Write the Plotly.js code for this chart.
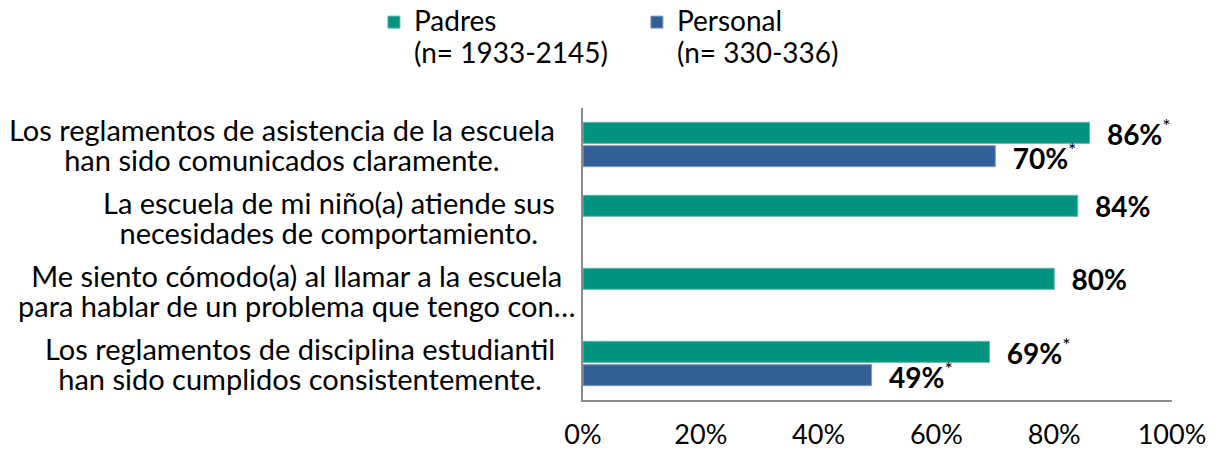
<!DOCTYPE html>
<html>
<head>
<meta charset="utf-8">
<script src="https://cdn.plot.ly/plotly-3.0.1.min.js"></script>
<style>
  html, body { margin: 0; padding: 0; background: #ffffff; }
  #chart { width: 1218px; height: 452px; }
</style>
</head>
<body>
<div id="chart"></div>
<script>
// ---- Data ----
const categoryLines = [
  ["Los reglamentos de asistencia de la escuela", "han sido comunicados claramente."],
  ["La escuela de mi niño(a) atiende sus", "necesidades de comportamiento."],
  ["Me siento cómodo(a) al llamar a la escuela", "para hablar de un problema que tengo con…"],
  ["Los reglamentos de disciplina estudiantil", "han sido cumplidos consistentemente."]
];
const padresValues = [86, 84, 80, 69];
const personalValues = [70, null, null, 49];
const padresSignificant = [true, false, false, true];
const personalSignificant = [true, false, false, true];
const seriesNames = [["Padres", "(n= 1933-2145)"], ["Personal", "(n= 330-336)"]];
const xTickValues = [0, 20, 40, 60, 80, 100];
const xTickLabels = ["0%", "20%", "40%", "60%", "80%", "100%"];

const FONT = "Lato, 'Open Sans', sans-serif";
const GREEN = "#00937F";
const BLUE = "#336094";

function big(lines, px) {
  return lines.map(l => '<span style="font-size:' + px + 'px">' + l + '</span>').join("<br>");
}
function labels(vals, sig) {
  return vals.map((v, i) => v == null ? "" :
    "\u00a0\u00a0<b>" + v + "%</b>" + (sig[i] ? "<sup>*</sup>" : ""));
}

const catIds = categoryLines.map((c, i) => "c" + i);

const traces = [
  {
    type: "bar", orientation: "h", name: big(seriesNames[0], 28),
    y: catIds, x: padresValues,
    marker: { color: GREEN, line: { color: "#5DB8AC", width: 1 } },
    text: labels(padresValues, padresSignificant),
    textposition: "outside", constraintext: "none", cliponaxis: false,
    textfont: { family: FONT, size: 28, color: "#000000" },
    hoverinfo: "skip"
  },
  {
    type: "bar", orientation: "h", name: big(seriesNames[1], 28),
    y: catIds, x: personalValues,
    marker: { color: BLUE, line: { color: "#7F9BC0", width: 1 } },
    text: labels(personalValues, personalSignificant),
    textposition: "outside", constraintext: "none", cliponaxis: false,
    textfont: { family: FONT, size: 28, color: "#000000" },
    hoverinfo: "skip"
  }
];

// the widest label overhangs toward the axis, as in the original
const annotations = categoryLines.map((c, i) => ({
  xref: "paper", yref: "y", x: 0, y: catIds[i],
  xanchor: "right", yanchor: "middle", xshift: (i === 2 ? -6 : -26),
  align: "center", showarrow: false, text: big(c, 29),
  font: { family: FONT, size: 23, color: "#000000" }
}));

const layout = {
  width: 1218, height: 452,
  margin: { l: 583, r: 46, t: 108, b: 52, autoexpand: false },
  paper_bgcolor: "#ffffff", plot_bgcolor: "#ffffff",
  font: { family: FONT, size: 23, color: "#000000" },
  barmode: "group", bargap: 0.36, bargroupgap: 0.1,
  showlegend: true,
  legend: {
    orientation: "h", xref: "container", yref: "container",
    x: 0.307, xanchor: "left", y: 1, yanchor: "top",
    entrywidth: 218, entrywidthmode: "pixels",
    valign: "top", traceorder: "normal",
    font: { family: FONT, size: 24, color: "#000000" },
    bgcolor: "rgba(0,0,0,0)"
  },
  xaxis: {
    range: [0, 100], tickvals: xTickValues, ticktext: xTickLabels,
    showgrid: false, zeroline: false, showline: true,
    linecolor: "#8C8C8C", linewidth: 2, ticks: "",
    ticklabelstandoff: 10,
    tickfont: { family: FONT, size: 27, color: "#000000" },
    fixedrange: true
  },
  yaxis: {
    categoryorder: "array", categoryarray: catIds,
    autorange: "reversed",
    showticklabels: false, showgrid: false, zeroline: false,
    showline: true, linecolor: "#8C8C8C", linewidth: 2, ticks: "",
    fixedrange: true
  },
  annotations: annotations
};

Plotly.newPlot("chart", traces, layout, { displayModeBar: false, staticPlot: true });
</script>
</body>
</html>
